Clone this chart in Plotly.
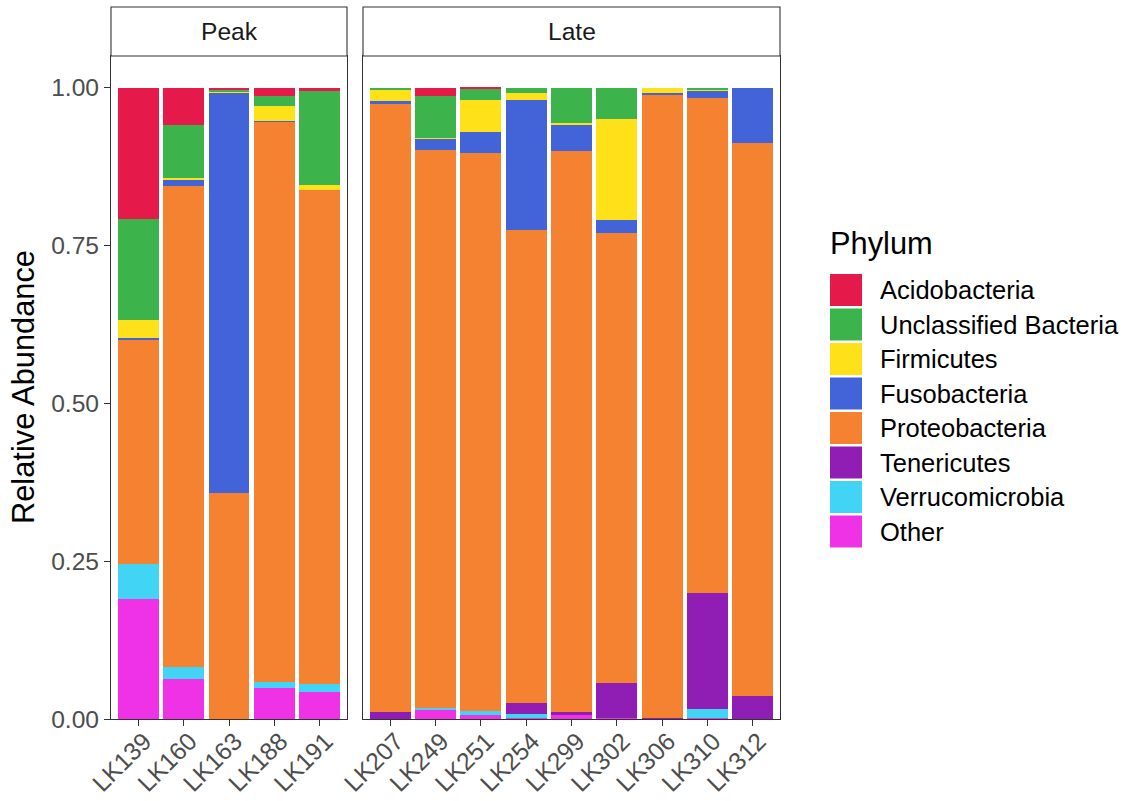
import plotly.graph_objects as go

# Samples per stage
peak_samples = ["LK139", "LK160", "LK163", "LK188", "LK191"]
late_samples = ["LK207", "LK249", "LK251", "LK254", "LK299", "LK302", "LK306", "LK310", "LK312"]

# Phyla, listed from the bottom of each stack to the top
phyla = ["Other", "Verrucomicrobia", "Tenericutes", "Proteobacteria",
         "Fusobacteria", "Firmicutes", "Unclassified Bacteria", "Acidobacteria"]
colors = {
    "Acidobacteria": "#E6194B",
    "Unclassified Bacteria": "#3CB44B",
    "Firmicutes": "#FFE119",
    "Fusobacteria": "#4363D8",
    "Proteobacteria": "#F58231",
    "Tenericutes": "#911EB4",
    "Verrucomicrobia": "#42D4F4",
    "Other": "#F032E6",
}

# Relative abundance per phylum, Peak samples
peak_other = [0.190, 0.063, 0.000, 0.049, 0.043]
peak_verruco = [0.055, 0.020, 0.000, 0.009, 0.012]
peak_teneri = [0.000, 0.000, 0.000, 0.000, 0.000]
peak_proteo = [0.355, 0.761, 0.358, 0.888, 0.783]
peak_fuso = [0.004, 0.011, 0.634, 0.001, 0.000]
peak_firm = [0.028, 0.002, 0.002, 0.024, 0.007]
peak_uncl = [0.160, 0.083, 0.003, 0.016, 0.150]
peak_acido = [0.208, 0.060, 0.003, 0.013, 0.005]

# Relative abundance per phylum, Late samples
late_other = [0.000, 0.014, 0.006, 0.002, 0.006, 0.001, 0.001, 0.002, 0.000]
late_verruco = [0.000, 0.004, 0.006, 0.006, 0.000, 0.000, 0.000, 0.014, 0.000]
late_teneri = [0.011, 0.000, 0.000, 0.017, 0.005, 0.056, 0.001, 0.183, 0.037]
late_proteo = [0.964, 0.883, 0.884, 0.749, 0.889, 0.713, 0.987, 0.785, 0.875]
late_fuso = [0.003, 0.018, 0.034, 0.206, 0.041, 0.020, 0.003, 0.012, 0.088]
late_firm = [0.018, 0.001, 0.050, 0.011, 0.003, 0.161, 0.008, 0.001, 0.000]
late_uncl = [0.004, 0.066, 0.018, 0.009, 0.056, 0.049, 0.000, 0.003, 0.000]
late_acido = [0.000, 0.014, 0.002, 0.000, 0.000, 0.000, 0.000, 0.000, 0.000]

y_ticks = [0.0, 0.25, 0.5, 0.75, 1.0]
y_tick_labels = ["0.00", "0.25", "0.50", "0.75", "1.00"]

peak_values = dict(zip(phyla, [peak_other, peak_verruco, peak_teneri, peak_proteo,
                               peak_fuso, peak_firm, peak_uncl, peak_acido]))
late_values = dict(zip(phyla, [late_other, late_verruco, late_teneri, late_proteo,
                               late_fuso, late_firm, late_uncl, late_acido]))

# Figure geometry (pixels)
W, H = 1135, 801
L, R, T, B = 111, 780, 7, 719
STRIP_BOTTOM = 56
PEAK_RIGHT, LATE_LEFT = 347, 363


def px_x(px):
    return (px - L) / (R - L)


def px_y(py):
    return (B - py) / (B - T)


FONT = "Liberation Sans, Arial, sans-serif"
SMALL = 24.6
LEGEND = 25.5
BIG = 30.8

fig = go.Figure()
for ph in phyla:
    fig.add_trace(go.Bar(x=peak_samples, y=peak_values[ph], name=ph,
                         marker=dict(color=colors[ph], line=dict(width=0)),
                         xaxis="x", yaxis="y", showlegend=False))
    fig.add_trace(go.Bar(x=late_samples, y=late_values[ph], name=ph,
                         marker=dict(color=colors[ph], line=dict(width=0)),
                         xaxis="x2", yaxis="y2", showlegend=False))

axis_common = dict(showline=True, mirror=True, linecolor="#333333", linewidth=1.1,
                   showgrid=False, zeroline=False, ticks="outside", ticklen=6,
                   tickwidth=1.1, tickcolor="#333333", automargin=False,
                   tickfont=dict(family=FONT, size=SMALL, color="#4D4D4D"))
x_label_pos = dict(tickangle=-45, ticklabelstandoff=-9, ticklabelshift=6)

fig.update_layout(
    width=W, height=H,
    margin=dict(l=L, r=W - R, t=T, b=H - B, pad=0, autoexpand=False),
    paper_bgcolor="white", plot_bgcolor="white",
    barmode="stack", bargap=0.1,
    xaxis=dict(domain=[0, px_x(PEAK_RIGHT)], type="category",
               categoryorder="array", categoryarray=peak_samples,
               range=[-0.6, len(peak_samples) - 0.4],
               anchor="y", **x_label_pos, **axis_common),
    xaxis2=dict(domain=[px_x(LATE_LEFT), 1], type="category",
                categoryorder="array", categoryarray=late_samples,
                range=[-0.6, len(late_samples) - 0.4],
                anchor="y2", **x_label_pos, **axis_common),
    yaxis=dict(domain=[0, px_y(STRIP_BOTTOM)], range=[0, 1.05],
               tickvals=y_ticks, ticktext=y_tick_labels, anchor="x", **axis_common),
    yaxis2=dict(domain=[0, px_y(STRIP_BOTTOM)], range=[0, 1.05],
                tickvals=y_ticks, ticktext=y_tick_labels, anchor="x2",
                **{**axis_common, "ticks": "", "showticklabels": False}),
    font=dict(family=FONT),
)

# Facet strips
strips = [("Peak", "x domain"), ("Late", "x2 domain")]
for label, xref in strips:
    fig.add_shape(type="rect", xref=xref, yref="paper", x0=0, x1=1,
                  y0=px_y(STRIP_BOTTOM), y1=1,
                  line=dict(color="#333333", width=1.1), fillcolor="white", layer="above")
    fig.add_annotation(xref=xref, yref="paper", x=0.5, y=(px_y(STRIP_BOTTOM) + 1) / 2,
                       text=label, showarrow=False, xanchor="center", yanchor="middle",
                       font=dict(family=FONT, size=SMALL, color="#1A1A1A"))

# Y axis title
fig.add_annotation(xref="paper", yref="paper", x=px_x(23), y=px_y(387),
                   text="Relative Abundance", textangle=-90, showarrow=False,
                   xanchor="center", yanchor="middle",
                   font=dict(family=FONT, size=BIG, color="black"))

# Legend
fig.add_annotation(xref="paper", yref="paper", x=px_x(828), y=px_y(244),
                   text="Phylum", showarrow=False, xanchor="left", yanchor="middle",
                   font=dict(family=FONT, size=BIG, color="black"))
key_top, key_step, key_size = 274, 34.5, 32
for i, ph in enumerate(reversed(phyla)):
    y0 = key_top + i * key_step
    fig.add_shape(type="rect", xref="paper", yref="paper",
                  x0=px_x(830), x1=px_x(830 + key_size),
                  y0=px_y(y0), y1=px_y(y0 + key_size),
                  fillcolor=colors[ph], line=dict(width=0))
    fig.add_annotation(xref="paper", yref="paper", x=px_x(878), y=px_y(y0 + key_size / 2),
                       text=ph, showarrow=False, xanchor="left", yanchor="middle",
                       font=dict(family=FONT, size=LEGEND, color="black"))

fig.write_html("out.html")
